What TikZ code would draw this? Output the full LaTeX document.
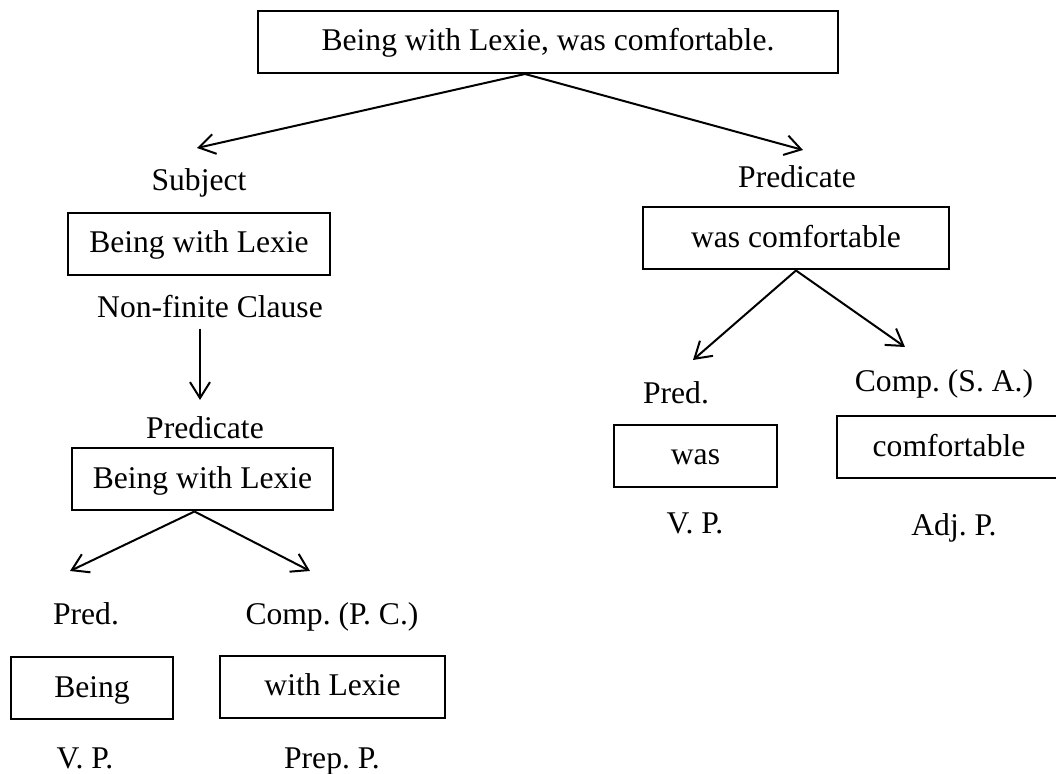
\documentclass[tikz,border=0pt]{standalone}
\usepackage{fontspec}
\setmainfont{Liberation Serif}
\usetikzlibrary{arrows.meta}
\frenchspacing
\begin{document}
\begin{tikzpicture}[x=0.5pt,y=-0.5pt,
  font=\fontsize{15.8}{19}\selectfont,
  box/.style={draw,line width=1pt,inner sep=0pt,minimum height=31pt,text height=11pt,text depth=2pt},
  lbl/.style={anchor=base,inner sep=0pt},
  arr/.style={line width=1pt,-{Straight Barb[length=8pt,width=10pt]}}]
\useasboundingbox (0,0) rectangle (1056,774);
% boxes
\node[box,minimum width=290pt] (top) at (548,42) {Being with Lexie, was comfortable.};
\node[box,minimum width=131pt] (subjbox) at (199,244) {Being with Lexie};
\node[box,minimum width=130.5pt] (predLbox) at (202.5,479.5) {Being with Lexie};
\node[box,minimum width=81pt] (beingbox) at (92,688.5) {Being};
\node[box,minimum width=112.5pt] (withbox) at (332.5,687) {with Lexie};
\node[box,minimum width=153pt] (wcbox) at (796,238.5) {was comfortable};
\node[box,minimum width=81.5pt] (wasbox) at (695.5,456) {was};
\node[box,minimum width=112pt] (comfbox) at (949,447.5) {comfortable};
% labels (x, baseline)
\foreach \n/\x/\y/\t in {subj/199/191/Subject, nfc/210/318/{Non-finite Clause},
    predL/205/439/Predicate, predsL/86/625/Pred., compL/332/625/{Comp. (P. C.)},
    vpL/85/769/{V. P.}, prepp/332/769/{Prep. P.},
    predR/797/188/Predicate, predsR/676/404/Pred., compR/944/392/{Comp. (S. A.)},
    vpR/695/534/{V. P.}, adjp/954/536/{Adj. P.}}
  \node[lbl] (\n) at (\x,\y) {\t};
% arrow tips
\coordinate (tS) at (197,148);
\coordinate (tP) at (803,150);
\coordinate (tD) at (200,400);
\coordinate (tpl) at (70,571);
\coordinate (tcl) at (310,571);
\coordinate (tpr) at (693,360);
\coordinate (tcr) at (905,347);
\draw[arr] ([xshift=-11.5pt]top.south) -- (tS);
\draw[arr] ([xshift=-11.5pt]top.south) -- (tP);
\draw[arr] ([xshift=-5pt,yshift=-5pt]nfc.south) -- (tD);
\draw[arr] ([xshift=-4pt]predLbox.south) -- (tpl);
\draw[arr] ([xshift=-4pt]predLbox.south) -- (tcl);
\draw[arr] (wcbox.south) -- (tpr);
\draw[arr] (wcbox.south) -- (tcr);
\end{tikzpicture}
\end{document}
